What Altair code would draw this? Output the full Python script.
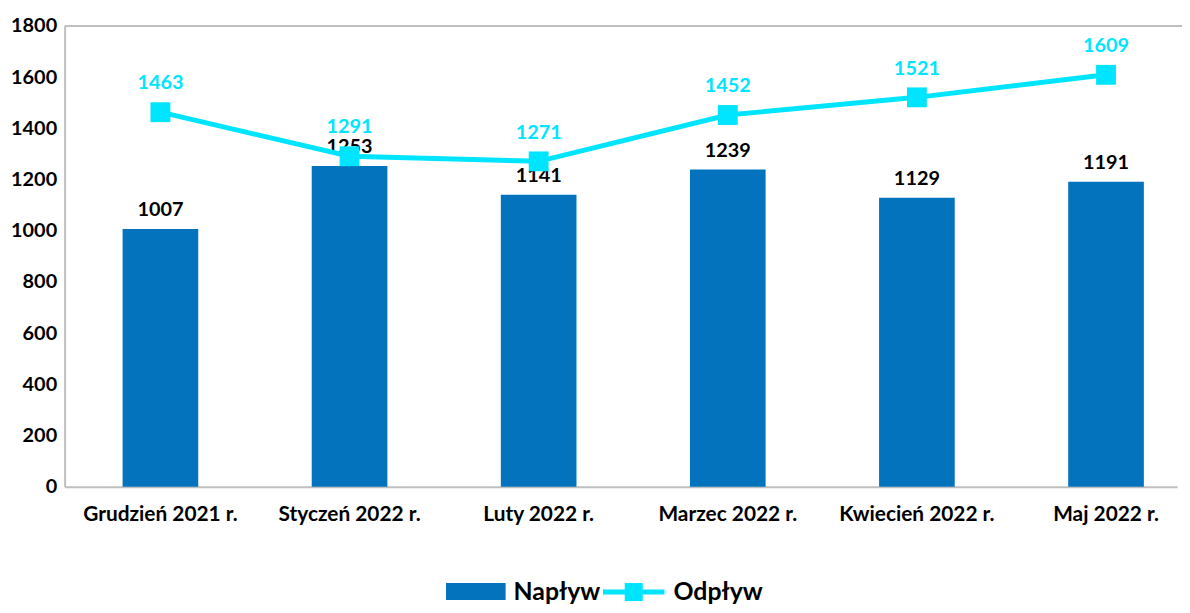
import altair as alt
import pandas as pd

months = ["Grudzień 2021 r.", "Styczeń 2022 r.", "Luty 2022 r.", "Marzec 2022 r.", "Kwiecień 2022 r.", "Maj 2022 r."]
naplyw = [1007, 1253, 1141, 1239, 1129, 1191]
odplyw = [1463, 1291, 1271, 1452, 1521, 1609]

BLUE = "#0473BE"
CYAN = "#00E5FF"
GREY = "#BFBFBF"
FONT = "Lato"

df = pd.DataFrame({"m": months, "n": naplyw, "o": odplyw})

x = alt.X("m:N", sort=months, title=None,
          scale=alt.Scale(paddingInner=0.6, paddingOuter=0.241, align=0.636),
          axis=alt.Axis(labelAngle=0, labelFont=FONT, labelFontSize=21, labelFontWeight="bold",
                        labelColor="black", ticks=False, domainColor=GREY, domainWidth=2,
                        labelPadding=17))
y_axis = alt.Axis(values=list(range(0, 1801, 200)), format="d", labelFont=FONT, labelFontSize=20,
                  labelFontWeight="bold", labelColor="black", ticks=False, grid=False,
                  domainColor=GREY, domainWidth=2, labelPadding=8)
yscale = alt.Scale(domain=[0, 1800], nice=False)

base = alt.Chart(df)
bars = base.mark_bar(color=BLUE).encode(x=x, y=alt.Y("n:Q", scale=yscale, axis=y_axis, title=None))
bar_lbl = base.mark_text(font=FONT, fontSize=20, fontWeight="bold", color="black",
                         baseline="alphabetic", dy=-13).encode(x=x, y=alt.Y("n:Q", scale=yscale), text="n:Q")
line = base.mark_line(color=CYAN, strokeWidth=5).encode(x=x, y=alt.Y("o:Q", scale=yscale))
pts = base.mark_square(color=CYAN, size=400, opacity=1).encode(x=x, y=alt.Y("o:Q", scale=yscale))
line_lbl = base.mark_text(font=FONT, fontSize=20, fontWeight="bold", color=CYAN,
                          baseline="alphabetic", dy=-23).encode(x=x, y=alt.Y("o:Q", scale=yscale), text="o:Q")

lg = alt.Chart(pd.DataFrame({"k": [0]}))
top_border = lg.mark_rule(color=GREY, strokeWidth=2).encode(x=alt.value(0), x2=alt.value(1134), y=alt.value(0))

# legend
leg_rect = lg.mark_rect(color=BLUE).encode(x=alt.value(384), x2=alt.value(444), y=alt.value(561), y2=alt.value(578))
leg_t1 = lg.mark_text(font=FONT, fontSize=25, fontWeight="bold", color="black", align="left",
                      baseline="alphabetic").encode(x=alt.value(452), y=alt.value(578), text=alt.value("Napływ"))
leg_line = lg.mark_rule(color=CYAN, strokeWidth=5).encode(x=alt.value(542), x2=alt.value(604), y=alt.value(570))
leg_sq = lg.mark_square(color=CYAN, size=330, opacity=1).encode(x=alt.value(573), y=alt.value(570))
leg_t2 = lg.mark_text(font=FONT, fontSize=25, fontWeight="bold", color="black", align="left",
                      baseline="alphabetic").encode(x=alt.value(613), y=alt.value(578), text=alt.value("Odpływ"))

chart = alt.layer(bars, bar_lbl, line, pts, line_lbl, top_border,
                  leg_rect, leg_t1, leg_line, leg_sq, leg_t2).properties(
    width=1120, height=464,
    autosize=alt.AutoSizeParams(type="none"),
    padding={"left": 57, "top": 16, "right": 5, "bottom": 117},
).configure_view(stroke=None)

chart.save("out.html", embed_options={"renderer": "svg", "actions": False})
